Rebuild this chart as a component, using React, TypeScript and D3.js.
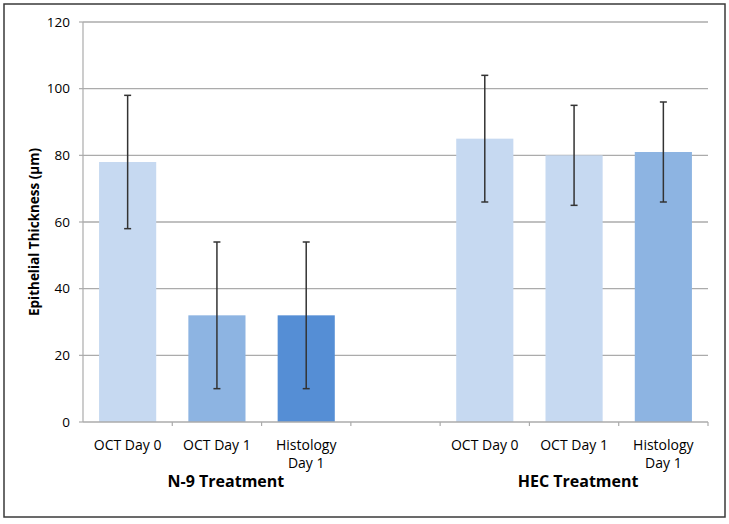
import React from "react";
import * as d3 from "d3";

const categories = ["n0", "n1", "n2", "gap", "h0", "h1", "h2"];
const labelLines: string[][] = [
  ["OCT Day 0"], ["OCT Day 1"], ["Histology", "Day 1"], [],
  ["OCT Day 0"], ["OCT Day 1"], ["Histology", "Day 1"],
];
const values: (number | null)[] = [78, 32, 32, null, 85, 80, 81];
const errors: (number | null)[] = [20, 22, 22, null, 19, 15, 15];
const barColors = ["#C6D9F1", "#8DB4E2", "#558ED5", "none", "#C6D9F1", "#C6D9F1", "#8DB4E2"];
const groupNames = ["N-9 Treatment", "HEC Treatment"];
const groupCenters = ["n1", "h1"];
const groupOffsets = [9, 4];
const yTicks = [0, 20, 40, 60, 80, 100, 120];

const W = 729, H = 524;
const M = { left: 83, right: 21, top: 22, bottom: 102 };

export default function App() {
  const x = d3.scaleBand<string>().domain(categories)
    .range([M.left, W - M.right]).paddingInner(0.36).paddingOuter(0.18);
  const y = d3.scaleLinear().domain([0, 120]).range([H - M.bottom, M.top]);
  const step = x.step();
  const x0 = M.left;
  const font = "'Open Sans', sans-serif";
  return (
    <svg width={W} height={H} style={{ position: "absolute", left: 0, top: 0 }} fontFamily={font}>
      <rect x={0} y={0} width={W} height={H} fill="#fff" />
      <rect x={4} y={4} width={721} height={513} fill="none" stroke="#3a3a3a" strokeWidth={1.5} />
      {yTicks.map(t => (
        <g key={t}>
          {t > 0 && <line x1={x0} x2={W - M.right} y1={y(t)} y2={y(t)} stroke="#ABABAB" strokeWidth={1.4} />}
          <line x1={x0 - 4} x2={x0} y1={y(t)} y2={y(t)} stroke="#ABABAB" strokeWidth={1.2} />
          <text x={70} y={y(t)} dy="0.35em" textAnchor="end" fontSize={13.5} fill="#000">{t}</text>
        </g>
      ))}
      <line x1={x0} x2={x0} y1={y(120)} y2={y(0)} stroke="#ABABAB" strokeWidth={1.2} />
      {categories.map((c, i) => {
        const v = values[i];
        if (v == null) return null;
        return (
          <rect key={c} x={x(c)} y={y(v)} width={x.bandwidth()} height={y(0) - y(v)} fill={barColors[i]} />
        );
      })}
      <line x1={x0} x2={W - M.right} y1={y(0)} y2={y(0)} stroke="#ABABAB" strokeWidth={1.4} />
      {categories.map((c, i) => (
        <line key={"t" + c} x1={x0 + step * (i + 1)} x2={x0 + step * (i + 1)} y1={y(0)} y2={y(0) + 4} stroke="#ABABAB" strokeWidth={1.2} />
      ))}
      {categories.map((c, i) => {
        const v = values[i], e = errors[i];
        if (v == null || e == null) return null;
        const cx = (x(c) as number) + x.bandwidth() / 2;
        return (
          <g key={"e" + c} stroke="#333" strokeWidth={1.5}>
            <line x1={cx} x2={cx} y1={y(v + e)} y2={y(v - e)} />
            <line x1={cx - 3.5} x2={cx + 3.5} y1={y(v + e)} y2={y(v + e)} />
            <line x1={cx - 3.5} x2={cx + 3.5} y1={y(v - e)} y2={y(v - e)} />
          </g>
        );
      })}
      {categories.map((c, i) => {
        const cx = (x(c) as number) + x.bandwidth() / 2;
        return (
          <text key={"l" + c} x={cx} y={450} textAnchor="middle" fontSize={14} fill="#000">
            {labelLines[i].map((ln, j) => (
              <tspan key={j} x={cx} dy={j === 0 ? 0 : 18}>{ln}</tspan>
            ))}
          </text>
        );
      })}
      {groupNames.map((g, i) => (
        <text key={g} x={(x(groupCenters[i]) as number) + x.bandwidth() / 2 + groupOffsets[i]} y={487}
          textAnchor="middle" fontSize={16} fontWeight="bold" fill="#000">{g}</text>
      ))}
      <text transform={`translate(39,${232}) rotate(-90)`} textAnchor="middle" fontSize={13.5} fontWeight="bold" fill="#000">
        Epithelial Thickness (µm)
      </text>
    </svg>
  );
}
